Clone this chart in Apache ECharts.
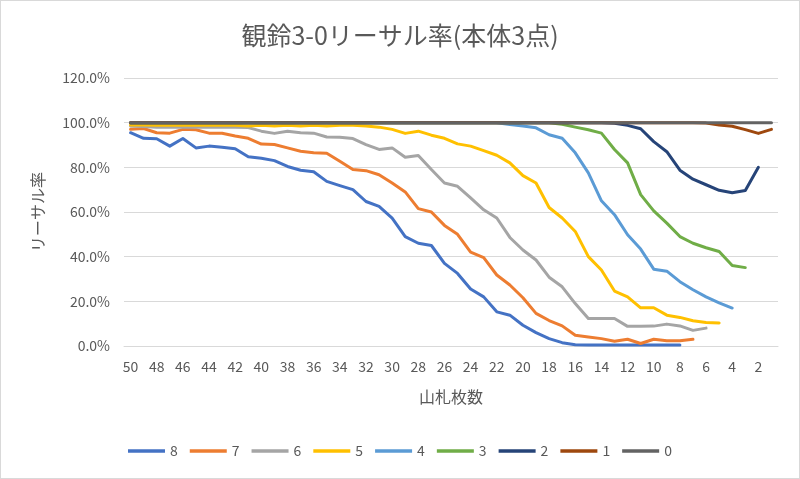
<!DOCTYPE html>
<html>
<head>
<meta charset="utf-8">
<script src="https://cdn.jsdelivr.net/npm/echarts@6/dist/echarts.min.js"></script>
<style>
html,body{margin:0;padding:0;background:#fff;}
#c{position:absolute;left:0;top:0;width:798px;height:477px;border:1px solid #d9d9d9;}
</style>
</head>
<body>
<div id="c"></div>
<script>
// Categories: cards remaining in deck (山札枚数)
const categories = [50,49,48,47,46,45,44,43,42,41,40,39,38,37,36,35,34,33,32,31,30,29,28,27,26,25,24,23,22,21,20,19,18,17,16,15,14,13,12,11,10,9,8,7,6,5,4,3,2,1];

const seriesNames = ['8','7','6','5','4','3','2','1','0'];

// Lethal rate (%) per series, from 50 cards downward
const s8 = [95.5,93,92.8,89.5,92.9,88.7,89.5,89,88.3,84.7,84.1,83,80.4,78.7,78,73.7,71.8,70,64.7,62.5,57.3,49,46,45,37,32.5,25.5,22,15.3,13.8,9.3,6,3.3,1.5,0.6,0.5,0.5,0.5,0.5,0.5,0.5,0.5,0.5];
const s7 = [97,97.4,95.5,95.3,97,96.8,95.3,95.3,94,93,90.4,90.2,88.7,87.2,86.5,86.3,82.7,79,78.5,76.7,73,69,61.5,60,54,50,42,39.6,31.8,27.3,21.6,14.6,11.4,9,4.8,4,3.3,2.1,3,1.1,3,2.4,2.4,3];
const s6 = [98.5,98.3,98,98,98,98,98,98,98,97.8,96.2,95.2,96.2,95.5,95.3,93.6,93.5,92.9,90.2,88,88.7,84.5,85.3,79,73,71.5,66.3,61,57.3,48.6,43,38.5,30.8,26.5,19,12.3,12.3,12.3,8.8,8.8,8.9,9.8,9,7,8];
const s5 = [99,99,98.8,98.8,98.8,98.8,98.8,98.8,98.8,98.5,98.8,98.5,98.8,98.5,98.8,98.5,98.8,98.8,98.5,98,97,95.2,96.2,94.4,93,90.5,89.5,87.5,85.4,82,76.3,73,62,57.3,51.3,40,34,24.6,22,17.1,17.1,13.8,12.8,11.3,10.5,10.3];
const s4 = [100,100,100,100,100,100,100,100,100,100,100,100,100,100,100,100,100,100,100,100,100,100,100,100,100,100,100,100,100,99.2,98.5,97.7,94.6,93,86.5,77.5,65,58.8,49.8,43.4,34.4,33.5,28.8,25.2,22,19.3,17];
const s3 = [100,100,100,100,100,100,100,100,100,100,100,100,100,100,100,100,100,100,100,100,100,100,100,100,100,100,100,100,100,100,100,100,100,99.3,98,96.8,95.3,88,82,67.8,60.5,55,49,46,44,42.3,36,35.1];
const s2 = [100,100,100,100,100,100,100,100,100,100,100,100,100,100,100,100,100,100,100,100,100,100,100,100,100,100,100,100,100,100,100,100,100,100,100,100,100,99.7,98.8,97.3,91.5,87,78.7,74.7,72.2,69.7,68.6,69.6,80];
const s1 = [100,100,100,100,100,100,100,100,100,100,100,100,100,100,100,100,100,100,100,100,100,100,100,100,100,100,100,100,100,100,100,100,100,100,100,100,100,100,100,100,100,100,100,100,99.8,99,98.4,96.9,95.2,97];
const s0 = [100,100,100,100,100,100,100,100,100,100,100,100,100,100,100,100,100,100,100,100,100,100,100,100,100,100,100,100,100,100,100,100,100,100,100,100,100,100,100,100,100,100,100,100,100,100,100,100,100,100];

const yTicks = [0,20,40,60,80,100,120];

const seriesData = [s8,s7,s6,s5,s4,s3,s2,s1,s0];
const colors = ['#4472C4','#ED7D31','#A5A5A5','#FFC000','#5B9BD5','#70AD47','#264478','#9E480E','#636363'];

const FONT = '"Noto Sans CJK JP", "Noto Sans", sans-serif';
const chart = echarts.init(document.getElementById('c'), null, {renderer:'canvas'});
chart.setOption({
  animation:false,
  backgroundColor:'#fff',
  title:{
    text:'観鈴3-0リーサル率(本体3点)',
    left:'center', top:17,
    textStyle:{fontFamily:FONT,fontSize:25,fontWeight:'normal',color:'#595959'}
  },
  legend:{
    data:seriesNames,
    left:122, top:438,
    itemWidth:37, itemHeight:3.5, itemGap:12,
    icon:'rect',
    textStyle:{fontFamily:FONT,fontSize:14,color:'#595959',padding:[0,0,0,0]}
  },
  grid:{left:123, right:21, top:77, bottom:132, containLabel:false},
  xAxis:{
    type:'category',
    data:categories,
    boundaryGap:true,
    name:'山札枚数',
    nameLocation:'middle',
    nameGap:43,
    nameTextStyle:{fontFamily:FONT,fontSize:16,color:'#595959'},
    axisLine:{show:true,lineStyle:{color:'#d9d9d9',width:1}},
    axisTick:{show:false},
    axisLabel:{interval:1,margin:14,fontFamily:FONT,fontSize:14,color:'#595959'},
    splitLine:{show:false}
  },
  yAxis:{
    type:'value',
    min:yTicks[0], max:yTicks[yTicks.length-1], interval:20,
    name:'リーサル率',
    nameLocation:'middle',
    nameGap:78,
    nameRotate:90,
    nameTextStyle:{fontFamily:FONT,fontSize:16,color:'#595959'},
    axisLine:{show:false},
    axisTick:{show:false},
    axisLabel:{margin:14,fontFamily:FONT,fontSize:14,color:'#595959',formatter:v=>v.toFixed(1)+'%'},
    splitLine:{lineStyle:{color:'#d9d9d9',width:1}}
  },
  series: seriesNames.map((n,i)=>({
    name:n,
    type:'line',
    data:seriesData[i],
    symbol:'none',
    smooth:false,
    lineStyle:{color:colors[i],width:3,join:'round',cap:'round'},
    itemStyle:{color:colors[i]}
  }))
});
</script>
</body>
</html>
